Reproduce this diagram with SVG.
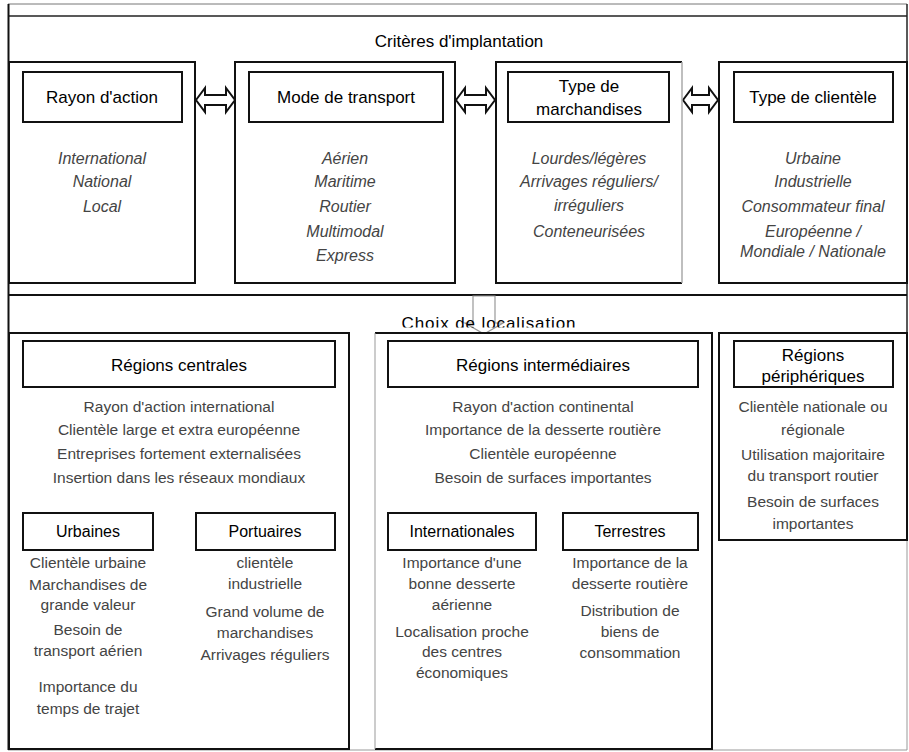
<svg xmlns="http://www.w3.org/2000/svg" width="909" height="752" viewBox="0 0 909 752">
<style>
.box{fill:#fff;stroke:#111;stroke-width:2}
.hb{fill:#fff;stroke:#111;stroke-width:2}
.t{font-family:'Liberation Sans',Arial,Helvetica,sans-serif;text-anchor:middle}
.h{font-size:17px;fill:#000}
.s{font-size:16px;fill:#000}
.i{font-size:16px;fill:#444;font-style:italic}
.b{font-size:15.5px;fill:#444}
.arr{fill:#fff;stroke:#111;stroke-width:2;stroke-linejoin:miter}
</style>
<defs>
<clipPath id="clipTitle"><rect x="0" y="296" width="909" height="31.5"/></clipPath>
</defs>
<rect width="909" height="752" fill="#fff"/>
<g id="frame">
<line x1="8" y1="4" x2="907" y2="4" stroke="#777" stroke-width="1"/>
<line x1="8" y1="16" x2="907" y2="16" stroke="#222" stroke-width="1.5"/>
<line x1="8.5" y1="4" x2="8.5" y2="750" stroke="#111" stroke-width="2"/>
<line x1="907" y1="4" x2="907" y2="540" stroke="#222" stroke-width="1.5"/>
<line x1="907" y1="540" x2="907" y2="750" stroke="#999" stroke-width="1"/>
<line x1="8" y1="295" x2="907" y2="295" stroke="#111" stroke-width="2"/>
<line x1="8" y1="750" x2="907" y2="750" stroke="#999" stroke-width="1"/>
</g>
<text class="t h" x="459" y="47">Critères d'implantation</text>
<g id="connectors">
<polygon class="arr" points="196,100 205,88 205,95 226,95 226,88 235,100 226,112 226,105 205,105 205,112"/>
<polygon class="arr" points="456,100 465,88 465,95 486,95 486,88 495,100 486,112 486,105 465,105 465,112"/>
<polygon class="arr" points="683,100 692,88 692,95 709,95 709,88 718,100 709,112 709,105 692,105 692,112"/>
<polygon points="473,296 495,296 495,323 503,323 484,334 465,323 473,323" fill="none" stroke="#999" stroke-width="1.2"/>
</g>
<text class="t h" x="489" y="329" font-size="19" letter-spacing="0.9" clip-path="url(#clipTitle)">Choix de localisation</text>
<g id="rayon">
<rect class="box" x="9" y="62" width="186" height="221"/>
<rect class="hb" x="23" y="72" width="159" height="50"/>
<text class="t h" x="102" y="103">Rayon d'action</text>
<text class="t i" x="102" y="164">International</text>
<text class="t i" x="102" y="187">National</text>
<text class="t i" x="102" y="212">Local</text>
</g>
<g id="mode">
<rect class="box" x="235" y="62" width="220" height="221"/>
<rect class="hb" x="249" y="72" width="194" height="50"/>
<text class="t h" x="346" y="103">Mode de transport</text>
<text class="t i" x="345" y="164">Aérien</text>
<text class="t i" x="345" y="187">Maritime</text>
<text class="t i" x="345" y="212">Routier</text>
<text class="t i" x="345" y="237">Multimodal</text>
<text class="t i" x="345" y="261">Express</text>
</g>
<g id="marchandises">
<rect x="496" y="62" width="186" height="221" fill="#fff"/>
<polyline points="682,62 496,62 496,283 682,283" fill="none" stroke="#111" stroke-width="2"/>
<line x1="682" y1="62" x2="682" y2="283" stroke="#aaa" stroke-width="1.5"/>
<rect class="hb" x="508" y="72" width="161" height="50"/>
<text class="t h" x="589" y="92">Type de</text>
<text class="t h" x="589" y="115">marchandises</text>
<text class="t i" x="589" y="164">Lourdes/légères</text>
<text class="t i" x="589" y="187">Arrivages réguliers/</text>
<text class="t i" x="589" y="211">irréguliers</text>
<text class="t i" x="589" y="237">Conteneurisées</text>
</g>
<g id="clientele">
<rect class="box" x="719" y="62" width="188" height="221"/>
<rect class="hb" x="734" y="72" width="159" height="50"/>
<text class="t h" x="813" y="103">Type de clientèle</text>
<text class="t i" x="813" y="164">Urbaine</text>
<text class="t i" x="813" y="187">Industrielle</text>
<text class="t i" x="813" y="212">Consommateur final</text>
<text class="t i" x="813" y="237">Européenne /</text>
<text class="t i" x="813" y="257">Mondiale / Nationale</text>
</g>
<g id="centrales">
<rect class="box" x="9" y="333" width="340" height="416"/>
<rect class="hb" x="23" y="341" width="312" height="46"/>
<text class="t h" x="179" y="371">Régions centrales</text>
<text class="t b" x="179" y="412">Rayon d'action international</text>
<text class="t b" x="179" y="435">Clientèle large et extra européenne</text>
<text class="t b" x="179" y="459">Entreprises fortement externalisées</text>
<text class="t b" x="179" y="483">Insertion dans les réseaux mondiaux</text>
</g>
<g id="urbaines">
<rect class="hb" x="23" y="513" width="130" height="37"/>
<text class="t s" x="88" y="537">Urbaines</text>
<text class="t b" x="88" y="568">Clientèle urbaine</text>
<text class="t b" x="88" y="590">Marchandises de</text>
<text class="t b" x="88" y="610">grande valeur</text>
<text class="t b" x="88" y="635">Besoin de</text>
<text class="t b" x="88" y="656">transport aérien</text>
<text class="t b" x="88" y="692">Importance du</text>
<text class="t b" x="88" y="714">temps de trajet</text>
</g>
<g id="portuaires">
<rect class="hb" x="196" y="513" width="139" height="37"/>
<text class="t s" x="265" y="537">Portuaires</text>
<text class="t b" x="265" y="568">clientèle</text>
<text class="t b" x="265" y="589">industrielle</text>
<text class="t b" x="265" y="617">Grand volume de</text>
<text class="t b" x="265" y="638">marchandises</text>
<text class="t b" x="265" y="660">Arrivages réguliers</text>
</g>
<g id="intermediaires">
<rect x="375" y="333" width="337" height="416" fill="#fff"/>
<polyline points="375,333 712,333 712,749 375,749" fill="none" stroke="#111" stroke-width="2"/>
<line x1="375" y1="333" x2="375" y2="749" stroke="#999" stroke-width="1"/>
<rect class="hb" x="388" y="341" width="310" height="46"/>
<text class="t h" x="543" y="371">Régions intermédiaires</text>
<text class="t b" x="543" y="412">Rayon d'action continental</text>
<text class="t b" x="543" y="435">Importance de la desserte routière</text>
<text class="t b" x="543" y="459">Clientèle européenne</text>
<text class="t b" x="543" y="483">Besoin de surfaces importantes</text>
</g>
<g id="internationales">
<rect class="hb" x="388" y="513" width="148" height="37"/>
<text class="t s" x="462" y="537">Internationales</text>
<text class="t b" x="462" y="568">Importance d'une</text>
<text class="t b" x="462" y="589">bonne desserte</text>
<text class="t b" x="462" y="610">aérienne</text>
<text class="t b" x="462" y="637">Localisation proche</text>
<text class="t b" x="462" y="657">des centres</text>
<text class="t b" x="462" y="678">économiques</text>
</g>
<g id="terrestres">
<rect class="hb" x="563" y="513" width="135" height="37"/>
<text class="t s" x="630" y="537">Terrestres</text>
<text class="t b" x="630" y="568">Importance de la</text>
<text class="t b" x="630" y="589">desserte routière</text>
<text class="t b" x="630" y="616">Distribution de</text>
<text class="t b" x="630" y="637">biens de</text>
<text class="t b" x="630" y="658">consommation</text>
</g>
<g id="peripheriques">
<rect class="box" x="719" y="333" width="188" height="207"/>
<rect class="hb" x="734" y="341" width="159" height="46"/>
<text class="t h" x="813" y="361">Régions</text>
<text class="t h" x="813" y="382">périphériques</text>
<text class="t b" x="813" y="412">Clientèle nationale ou</text>
<text class="t b" x="813" y="435">régionale</text>
<text class="t b" x="813" y="460">Utilisation majoritaire</text>
<text class="t b" x="813" y="481">du transport routier</text>
<text class="t b" x="813" y="507">Besoin de surfaces</text>
<text class="t b" x="813" y="529">importantes</text>
</g>
</svg>
